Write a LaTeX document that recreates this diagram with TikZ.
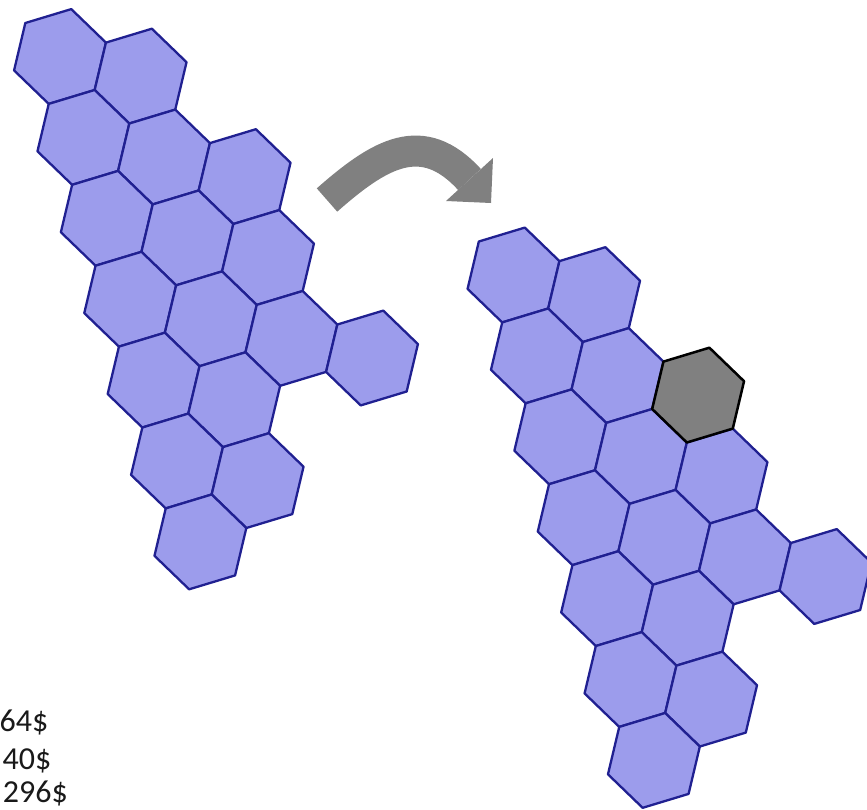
\documentclass[tikz,border=0pt]{standalone}
\usepackage{fontspec}
\setmainfont{Carlito}
\definecolor{hexfill}{RGB}{156,156,236}
\definecolor{hexline}{RGB}{32,32,145}
\definecolor{arrowgray}{RGB}{128,128,128}
\definecolor{cellgray}{RGB}{128,128,128}
\newcommand{\hexat}[3]{\draw[#3] ({#1+1/3},{#2+1/3}) -- ({#1-1/3},{#2+2/3}) -- ({#1-2/3},{#2+1/3}) -- ({#1-1/3},{#2-1/3}) -- ({#1+1/3},{#2-2/3}) -- ({#1+2/3},{#2-1/3}) -- cycle;}
\tikzset{
  bluecell/.style={fill=hexfill, draw=hexline, line width=2.3pt, line join=round},
  greycell/.style={fill=cellgray, draw=black, line width=2.5pt, line join=round},
  lattice/.style={x={(80.6pt,-19.6pt)}, y={(23.4pt,-80.9pt)}},
  pricetext/.style={anchor=base east, inner sep=0pt, font=\fontsize{32}{39}\selectfont, text=black!90}
}
\begin{document}
\begin{tikzpicture}[x=1pt,y=-1pt]
\useasboundingbox (0,0) rectangle (867,809);
\fill[white] (0,0) rectangle (867,809);
% left cluster
\begin{scope}[shift={(60,56.5)}, lattice]
\foreach \i/\j in {0/0,1/0,0/1,1/1,2/1,0/2,1/2,2/2,0/3,1/3,2/3,3/3,0/4,1/4,0/5,1/5,0/6}{
  \hexat{\i}{\j}{bluecell}
}
\end{scope}
% right cluster
\begin{scope}[shift={(513.5,275)}, lattice]
\foreach \i/\j in {0/0,1/0,0/1,1/1,0/2,1/2,2/2,0/3,1/3,2/3,3/3,0/4,1/4,0/5,1/5,0/6}{
  \hexat{\i}{\j}{bluecell}
}
\hexat{2}{1}{greycell}
\end{scope}
% curved arrow
\coordinate (tail) at (327,200);
\coordinate (headbase) at (469.5,179.5);
\draw[arrowgray, line width=31pt] (tail) .. controls (379.5,153.8) and (422.3,127.8) .. (headbase);
\fill[arrowgray] (493,158) -- (491,203) -- (446,201) -- cycle;
% texts
\node[pricetext] (p1) at (48.5,731) {64\$};
\node[pricetext] (p2) at (51.5,769) {40\$};
\node[pricetext] (p3) at (68,802) {296\$};
\end{tikzpicture}
\end{document}
